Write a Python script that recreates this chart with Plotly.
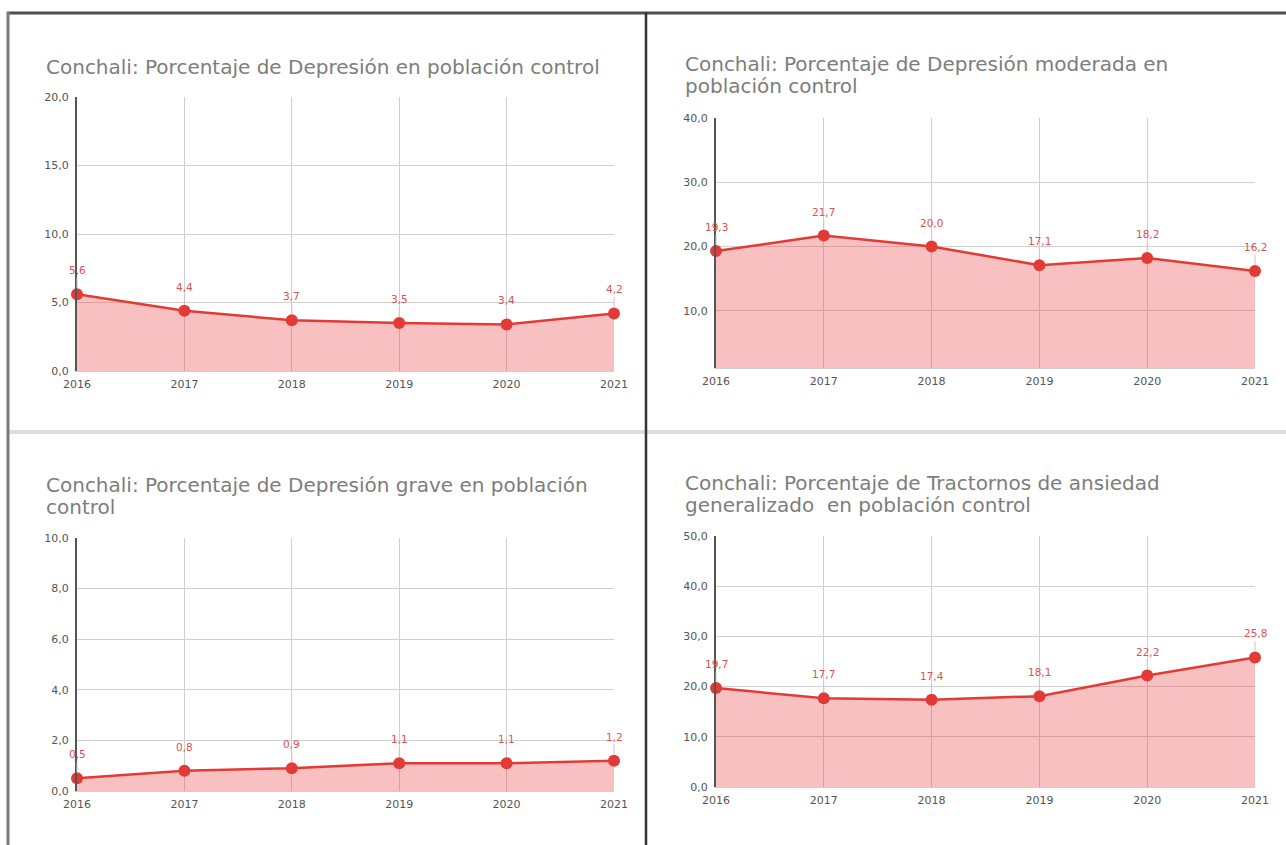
import plotly.graph_objects as go

# ---------------- data ----------------
years = [2016, 2017, 2018, 2019, 2020, 2021]
year_labels = ["2016", "2017", "2018", "2019", "2020", "2021"]

depresion = [5.6, 4.4, 3.7, 3.5, 3.4, 4.2]
depresion_moderada = [19.3, 21.7, 20.0, 17.1, 18.2, 16.2]
depresion_grave = [0.5, 0.8, 0.9, 1.1, 1.1, 1.2]
ansiedad = [19.7, 17.7, 17.4, 18.1, 22.2, 25.8]

title_1 = ["Conchali: Porcentaje de Depresión en población control"]
title_2 = ["Conchali: Porcentaje de Depresión moderada en", "población control"]
title_3 = ["Conchali: Porcentaje de Depresión grave en población", "control"]
title_4 = ["Conchali: Porcentaje de Tractornos de ansiedad", "generalizado  en población control"]

ticks_1 = [0, 5, 10, 15, 20]
ticks_2 = [10, 20, 30, 40]
ticks_3 = [0, 2, 4, 6, 8, 10]
ticks_4 = [0, 10, 20, 30, 40, 50]

# ---------------- layout helpers ----------------
W, H = 1286, 845
def px(x):
    return x / W
def py(y):
    return 1 - y / H

LINE = "#e23b36"
FILL = "rgba(232,60,60,0.32)"
FONT = "DejaVu Sans"

panels = [
    dict(vals=depresion, title=title_1, ticks=ticks_1, yr=[0, 20],
         x0=77, x1=614, y0=97, y1=371, ty=[67]),
    dict(vals=depresion_moderada, title=title_2, ticks=ticks_2, yr=[1.1, 40],
         x0=716, x1=1255, y0=118, y1=368, ty=[64, 86]),
    dict(vals=depresion_grave, title=title_3, ticks=ticks_3, yr=[0, 10],
         x0=77, x1=614, y0=538, y1=791, ty=[485, 507]),
    dict(vals=ansiedad, title=title_4, ticks=ticks_4, yr=[0, 50],
         x0=716, x1=1255, y0=536, y1=787, ty=[483, 505]),
]

fig = go.Figure()
annotations = []
layout_axes = {}

for i, p in enumerate(panels, start=1):
    sfx = "" if i == 1 else str(i)
    xa, ya = "x" + sfx, "y" + sfx
    fig.add_trace(go.Scatter(
        x=years, y=p["vals"], xaxis=xa, yaxis=ya,
        mode="lines+markers", fill="tozeroy", fillcolor=FILL,
        line=dict(color=LINE, width=2.5),
        marker=dict(color=LINE, size=12),
        showlegend=False, hoverinfo="x+y", cliponaxis=False,
    ))
    layout_axes["xaxis" + sfx] = dict(
        domain=[px(p["x0"]), px(p["x1"])], anchor=ya, automargin=False,
        range=[2016, 2021], tickvals=years, ticktext=year_labels,
        showgrid=True, gridcolor="#d0d0d0", gridwidth=1,
        zeroline=False, showline=True, linecolor="#cfcfcf", linewidth=1,
        ticks="", ticklabelstandoff=3,
        tickfont=dict(family=FONT, size=11, color="#555555"),
    )
    layout_axes["yaxis" + sfx] = dict(
        domain=[py(p["y1"]), py(p["y0"])], anchor=xa, automargin=False,
        range=p["yr"], tickvals=p["ticks"], tickformat=".1f",
        showgrid=True, gridcolor="#d0d0d0", gridwidth=1,
        zeroline=False, showline=True, linecolor="#555555", linewidth=2,
        ticks="", ticklabelstandoff=4,
        tickfont=dict(family=FONT, size=11, color="#555555"),
    )
    # data labels
    for xv, yv in zip(years, p["vals"]):
        annotations.append(dict(
            x=xv, y=yv, xref=xa, yref=ya,
            text=f"{yv:.1f}".replace(".", ","),
            showarrow=True, arrowhead=0, arrowwidth=1, arrowcolor="#c8c8c8",
            ax=0, ay=-24, standoff=6,
            font=dict(family=FONT, size=10.5, color="#e0524c"),
        ))
    # titles
    for line, ty in zip(p["title"], p["ty"]):
        annotations.append(dict(
            x=px(p["x0"] - 33), y=py(ty), xref="paper", yref="paper",
            xanchor="left", yanchor="middle", showarrow=False,
            text=line, font=dict(family=FONT, size=20, color="#7d7d7d"),
        ))

shapes = [
    # horizontal light divider
    dict(type="line", xref="paper", yref="paper", x0=px(8), x1=1, y0=py(432), y1=py(432),
         line=dict(color="#dcdcdc", width=4), layer="below"),
    # top border
    dict(type="line", xref="paper", yref="paper", x0=px(7), x1=1, y0=py(13), y1=py(13),
         line=dict(color="#505050", width=3)),
    # left border
    dict(type="line", xref="paper", yref="paper", x0=px(8), x1=px(8), y0=py(12), y1=0,
         line=dict(color="#7a7a7a", width=3)),
    # vertical divider
    dict(type="line", xref="paper", yref="paper", x0=px(646), x1=px(646), y0=py(12), y1=0,
         line=dict(color="#333333", width=2.5)),
]

fig.update_layout(
    width=W, height=H, margin=dict(l=0, r=0, t=0, b=0, pad=0, autoexpand=False),
    paper_bgcolor="white", plot_bgcolor="white",
    separators=",.",
    annotations=annotations, shapes=shapes,
    **layout_axes,
)

fig.write_html(
    "out.html",
    config={"displayModeBar": False},
    post_script="document.body.style.margin='0';document.body.style.overflow='hidden';",
)
